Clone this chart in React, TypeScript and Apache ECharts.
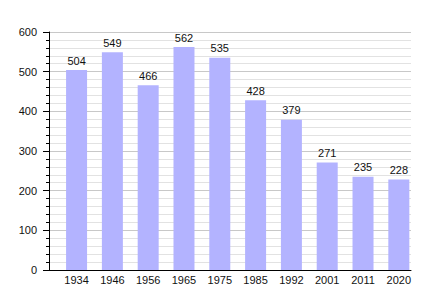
import React, { useEffect, useRef } from "react";
import * as echarts from "echarts";

const years = ["1934", "1946", "1956", "1965", "1975", "1985", "1992", "2001", "2011", "2020"];
const population = [504, 549, 466, 562, 535, 428, 379, 271, 235, 228];
const yTicks = [0, 100, 200, 300, 400, 500, 600];

export default function App() {
  const ref = useRef<HTMLDivElement>(null);
  useEffect(() => {
    if (!ref.current) return;
    const chart = echarts.init(ref.current, null, { renderer: "svg" });
    const font = "Liberation Sans, Arial, sans-serif";
    chart.setOption({
      animation: false,
      backgroundColor: "#ffffff",
      grid: { left: 49, right: 29, top: 32, bottom: 30, containLabel: false },
      xAxis: {
        type: "value",
        min: -0.77,
        max: 9.34,
        axisLine: { show: true, onZero: false, lineStyle: { color: "#000", width: 1 } },
        axisTick: { show: false },
        splitLine: { show: false },
        axisLabel: {
          customValues: years.map((_, i) => i),
          formatter: (v: number) => years[Math.round(v)] ?? "",
          color: "#111",
          fontSize: 11,
          fontFamily: font,
          margin: 4,
        },
      },
      yAxis: {
        type: "value",
        min: 0,
        max: 600,
        interval: 100,
        axisLine: { show: true, onZero: false, lineStyle: { color: "#000", width: 1 } },
        axisTick: { show: true, length: 6, lineStyle: { color: "#000" } },
        minorTick: { show: true, splitNumber: 5, length: 3, lineStyle: { color: "#000" } },
        splitLine: { show: true, lineStyle: { color: "#c8c8c8", width: 1 } },
        minorSplitLine: { show: true, lineStyle: { color: "#e2e2e2", width: 1 } },
        axisLabel: {
          customValues: yTicks,
          color: "#111",
          fontSize: 11,
          fontFamily: font,
          margin: 12,
        },
      },
      series: [
        {
          type: "bar",
          data: population.map((v, i) => [i, v]),
          barWidth: 21,
          itemStyle: { color: "#b3b3ff" },
          label: {
            show: true,
            position: "top",
            distance: 4,
            color: "#111",
            fontSize: 11,
            fontFamily: font,
          },
        },
      ],
    });
    return () => chart.dispose();
  }, []);
  return <div ref={ref} style={{ width: 440, height: 300, position: "absolute", left: 0, top: 0 }} />;
}
